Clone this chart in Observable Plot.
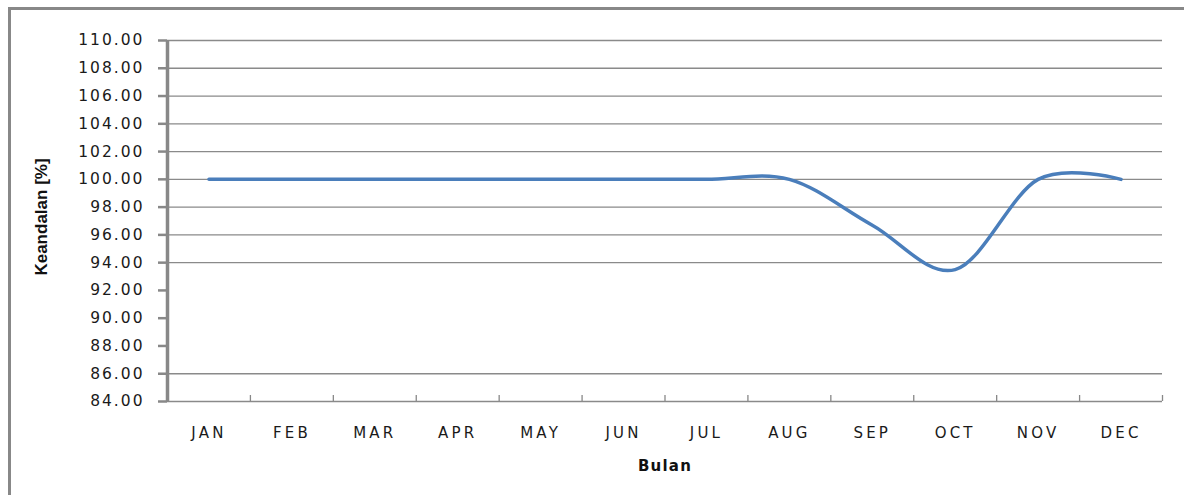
<!DOCTYPE html>
<html>
<head>
<meta charset="utf-8">
<script src="https://cdn.jsdelivr.net/npm/d3@7"></script>
<script src="https://cdn.jsdelivr.net/npm/@observablehq/plot@0.6"></script>
<style>
  html, body { margin: 0; padding: 0; background: #fff; }
  #wrap { position: relative; width: 1184px; height: 495px; overflow: hidden; }
  #frame { position: absolute; left: 8px; top: 7px; width: 1300px; height: 600px;
           border-left: 3px solid #888; border-top: 3px solid #888; }
  #chart { position: absolute; left: 0; top: 0; }
  g[aria-label="y-axis tick label"] text { letter-spacing: 2px; }
  g[aria-label="x-axis tick label"] text { letter-spacing: 3.2px; }
  .xlab text { letter-spacing: 1.2px; }
</style>
</head>
<body>
<div id="wrap"><div id="frame"></div><div id="chart"></div></div>
<script>
const months = ["JAN","FEB","MAR","APR","MAY","JUN","JUL","AUG","SEP","OCT","NOV","DEC"];
const reliability = [100, 100, 100, 100, 100, 100, 100, 100, 96.7, 93.5, 100, 100];
const yTicks = [84, 86, 88, 90, 92, 94, 96, 98, 100, 102, 104, 106, 108, 110];
const gridValues = [86, 94, 96, 98, 100, 102, 104, 106, 108, 110];
const xLabel = "Bulan";
const yLabel = "Keandalan [%]";

const data = months.map((m, i) => ({i, m, v: reliability[i]}));
const idx = months.map((m, i) => i);
const bounds = months.map((m, i) => i + 0.5);

const plot = Plot.plot({
  width: 1184,
  height: 495,
  marginLeft: 167,
  marginRight: 22,
  marginTop: 40,
  marginBottom: 94,
  style: {background: "none", fontFamily: "DejaVu Sans", fontSize: "15px", color: "#222"},
  x: {type: "linear", domain: [-0.5, 11.5]},
  y: {domain: [84, 110]},
  marks: [
    Plot.ruleY(gridValues, {stroke: "#8a8a8a", strokeWidth: 1.3}),
    Plot.ruleY([84], {stroke: "#8a8a8a", strokeWidth: 1.6}),
    Plot.axisY({ticks: yTicks, tickFormat: d => d.toFixed(2), tickSize: 9, tickPadding: 14,
                stroke: "#888", strokeWidth: 2.5, fill: "#1a1a1a", fontSize: 15.5, label: null}),
    Plot.axisX({ticks: bounds, tickFormat: () => "", tickSize: -6, stroke: "#888",
                strokeWidth: 1.3, label: null}),
    Plot.axisX({ticks: idx, tickFormat: i => months[i], tickSize: 0, tickPadding: 26,
                fill: "#1a1a1a", fontSize: 15, label: null}),
    Plot.ruleX([-0.5], {stroke: "#888", strokeWidth: 3.5}),
    Plot.line(data, {x: "i", y: "v", curve: "cardinal", tension: 0,
                     stroke: "#4a7ebb", strokeWidth: 3.5}),
    Plot.text([xLabel], {frameAnchor: "bottom", dy: 69, text: d => d, className: "xlab",
                         fontWeight: "bold", fontSize: 15, fill: "#111",
                         fontFamily: "DejaVu Sans"}),
    Plot.text([yLabel], {frameAnchor: "left", textAnchor: "middle", dx: -126, dy: -4,
                         rotate: -90, text: d => d,
                         fontWeight: "bold", fontSize: 17, fill: "#111",
                         fontFamily: "Liberation Sans Narrow, Liberation Sans"})
  ]
});
document.getElementById("chart").appendChild(plot);
</script>
</body>
</html>
